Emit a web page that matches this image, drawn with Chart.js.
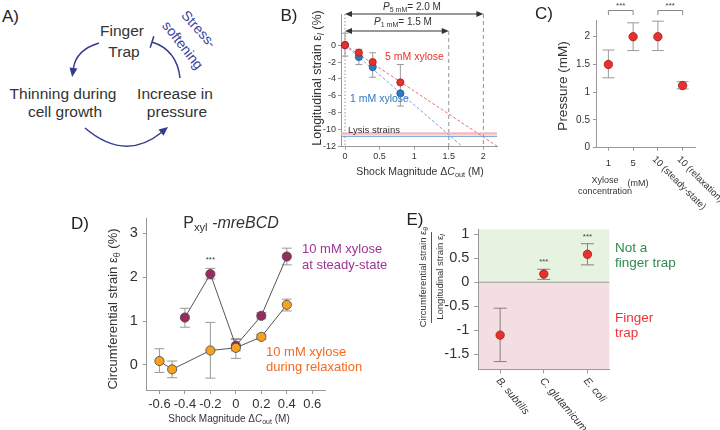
<!DOCTYPE html>
<html><head><meta charset="utf-8">
<script src="https://cdn.jsdelivr.net/npm/chart.js@4.4.1/dist/chart.umd.min.js"></script>
<style>
body{margin:0;background:#fff;width:720px;height:430px;overflow:hidden;position:relative;font-family:"Liberation Sans",Arial,sans-serif;color:#333}
canvas{position:absolute}
.t{position:absolute;white-space:nowrap;transform:translate(-50%,-50%);line-height:1}
.l{position:absolute;white-space:nowrap;transform:translateY(-50%);line-height:1}
sub{font-size:70%;vertical-align:-0.3em;line-height:0}
</style></head><body>
<svg width="240" height="200" style="position:absolute;left:0;top:0" font-family="Liberation Sans, Arial, sans-serif">
<text x="2" y="22" font-size="17" fill="#222">A)</text>
<g fill="#333" font-size="15.5" text-anchor="middle">
<text x="122" y="36">Finger</text>
<text x="124" y="57">Trap</text>
<text x="63" y="99">Thinning during</text>
<text x="65" y="117">cell growth</text>
<text x="175" y="99">Increase in</text>
<text x="177" y="117">pressure</text>
</g>
<g stroke="#353b91" stroke-width="1.5" fill="none">
<path d="M99 43 Q76 50 73.5 68"/>
<path d="M85 128 Q125 162 161.5 132.5"/>
<path d="M180 78 Q177 50 152 42"/>
<path d="M150.2 47.7 L153.8 36.3"/>
</g>
<g fill="#353b91">
<path d="M72.2 76.9 L77.5 68.6 L69.5 67.4 Z"/>
<path d="M168 127 L163.5 135.8 L158.5 129.6 Z"/>
</g>
<g fill="#3b3f9e" font-size="14" text-anchor="middle">
<text transform="translate(199,29) rotate(48)" dominant-baseline="central">Stress-</text>
<text transform="translate(183,45) rotate(52)" dominant-baseline="central">softening</text>
</g>
</svg>

<canvas id="cB" width="262" height="180" style="left:240px;top:0"></canvas>
<canvas id="cC" width="230" height="210" style="left:490px;top:0"></canvas>
<canvas id="cD" width="360" height="230" style="left:0;top:200px"></canvas>
<canvas id="cE" width="320" height="230" style="left:400px;top:200px"></canvas>

<!-- rotated axis titles -->
<svg width="720" height="430" style="position:absolute;left:0;top:0;pointer-events:none" font-family="Liberation Sans, Arial, sans-serif" fill="#333" text-anchor="middle">
<text transform="translate(321,78) rotate(-90)" font-size="12.5">Longitudinal strain ε<tspan font-style="italic" font-size="9" dy="3">l</tspan><tspan dy="-3"> (%)</tspan></text>
<text transform="translate(567,86) rotate(-90)" font-size="13.5">Pressure (mM)</text>
<text transform="translate(117,309) rotate(-90)" font-size="13">Circumferential strain ε<tspan font-size="9" dy="3">θ</tspan><tspan dy="-3"> (%)</tspan></text>
<text transform="translate(426,277) rotate(-90)" font-size="9.5">Circumferential strain ε<tspan font-size="7" dy="2">θ</tspan></text>
<text transform="translate(442.5,277) rotate(-90)" font-size="9.5">Longitudinal strain ε<tspan font-style="italic" font-size="7" dy="2">l</tspan></text>
<line x1="431.5" y1="232" x2="431.5" y2="323" stroke="#555" stroke-width="1"/>
</svg>

<!-- Panel B texts -->
<div class="t" style="left:289px;top:15px;font-size:17px;color:#222">B)</div>
<div class="t" style="left:412px;top:7px;font-size:10px"><i>P</i><sub>5 mM</sub>= 2.0 M</div>
<div class="t" style="left:403px;top:22px;font-size:10px"><i>P</i><sub>1 mM</sub>= 1.5 M</div>
<div class="l" style="left:385px;top:56px;font-size:10.5px;color:#e8312b">5 mM xylose</div>
<div class="l" style="left:350px;top:98px;font-size:10.5px;color:#2f79c3">1 mM xylose</div>
<div class="l" style="left:348px;top:130px;font-size:9.5px">Lysis strains</div>
<div class="t" style="left:420px;top:171px;font-size:10.5px">Shock Magnitude Δ<i>C</i><sub>out</sub> (M)</div>

<!-- Panel C texts -->
<div class="t" style="left:544px;top:13px;font-size:17px;color:#222">C)</div>
<div class="t" style="left:605px;top:180px;font-size:9px">Xylose</div>
<div class="t" style="left:605px;top:191px;font-size:9px">concentration</div>
<div class="t" style="left:638px;top:183px;font-size:9px">(mM)</div>

<!-- Panel D texts -->
<div class="t" style="left:80px;top:223px;font-size:17px;color:#222">D)</div>
<div class="t" style="left:231px;top:223px;font-size:16px">P<sub>xyl</sub> <i>-mreBCD</i></div>
<div class="t" style="left:229px;top:419px;font-size:10px">Shock Magnitude Δ<i>C</i><sub>out</sub> (M)</div>
<div class="l" style="left:302px;top:248px;font-size:13px;color:#9e3495">10 mM xylose</div>
<div class="l" style="left:302px;top:264px;font-size:13px;color:#9e3495">at steady-state</div>
<div class="l" style="left:266px;top:351px;font-size:13px;color:#f26a22">10 mM xylose</div>
<div class="l" style="left:266px;top:366px;font-size:13px;color:#f26a22">during relaxation</div>

<!-- Panel E texts -->
<div class="t" style="left:415px;top:219px;font-size:17px;color:#222">E)</div>
<div class="l" style="left:615px;top:248px;font-size:13.5px;color:#2e8a50">Not a</div>
<div class="l" style="left:615px;top:263px;font-size:13.5px;color:#2e8a50">finger trap</div>
<div class="l" style="left:615px;top:318px;font-size:13.5px;color:#ee3338">Finger</div>
<div class="l" style="left:615px;top:333px;font-size:13.5px;color:#ee3338">trap</div>

<script>
// ---------- Panel B data ----------
const bShock = [0, 0.2, 0.4, 0.8];
const bStrain5mM = [0, -0.9, -2.0, -4.4];
const bStrain1mM = [0, -1.4, -2.6, -5.7];
const bErrLow = [-1.3, -2.3, -3.8, -7.2];
const bErrHigh = [1.4, -0.5, -0.9, -2.3];
const bFit5X = [0, 2.21];
const bFit1X = [0, 1.70];
const bFitY = [0, -12];
const bLysisX = [-0.06, 2.2];
const bLysis5 = [-10.45, -10.45];
const bLysis1 = [-10.77, -10.77];
const bPressure = [2.0, 1.5];   // P(5 mM), P(1 mM)
const bXTicks = [0, 0.5, 1, 1.5, 2];
const bYTicks = [0, -2, -4, -6, -8, -10, -12];

// ---------- Panel C data ----------
const cCats = ['1', '5', '10 (steady-state)', '10 (relaxation)'];
const cPressure = [1.5, 2.0, 2.0, 1.12];
const cErrLow = [1.26, 1.75, 1.75, 1.06];
const cErrHigh = [1.76, 2.25, 2.28, 1.19];
const cYTicks = [0, 0.5, 1, 1.5, 2];
const cSigPairs = [[0, 1], [2, 3]];

// ---------- Panel D data ----------
const dSteadyX = [-0.4, -0.2, 0, 0.2, 0.4];
const dSteadyY = [1.08, 2.07, 0.44, 1.12, 2.47];
const dSteadyLow = [0.86, 1.96, 0.32, 1.05, 2.28];
const dSteadyHigh = [1.29, 2.20, 0.58, 1.19, 2.66];
const dRelaxX = [-0.6, -0.5, -0.2, 0, 0.2, 0.4];
const dRelaxY = [0.09, -0.10, 0.33, 0.39, 0.64, 1.37];
const dRelaxLow = [-0.17, -0.29, -0.30, 0.15, 0.58, 1.23];
const dRelaxHigh = [0.37, 0.09, 0.97, 0.60, 0.70, 1.50];
const dSigX = [-0.2];
const dSigTop = [2.20];
const dXTicks = [-0.6, -0.4, -0.2, 0, 0.2, 0.4, 0.6];
const dYTicks = [0, 1, 2, 3];

// ---------- Panel E data ----------
const eSpecies = ['B. subtilis', 'C. glutamicum', 'E. coli'];
const eRatio = [-1.10, 0.17, 0.58];
const eErrLow = [-1.65, 0.06, 0.36];
const eErrHigh = [-0.54, 0.27, 0.80];
const eSig = ['', '***', '***'];
const eYTicks = [-1.5, -1, -0.5, 0, 0.5, 1];
const eBoundary = 0;

Chart.defaults.font.family = '"Liberation Sans", Arial, sans-serif';
Chart.defaults.color = '#333';

const pts = (xs, ys) => xs.map((x, i) => ({x: x, y: ys[i]}));
const common = () => ({responsive: false, animation: false, events: [],
  plugins: {legend: {display: false}, tooltip: {enabled: false}}});

function linAxis(min, max, ticks, fs, tl, pad, fitFn) {
  return {type: 'linear', min: min, max: max, bounds: 'data',
    afterBuildTicks: s => { s.ticks = ticks.map(v => ({value: v})); },
    ticks: {font: {size: fs}, color: '#333', padding: pad, autoSkip: false, maxRotation: 0, minRotation: 0,
      callback: v => String(v)},
    grid: {display: true, drawOnChartArea: false, drawTicks: true, tickLength: tl, color: '#999'},
    border: {display: true, color: '#999', width: 1},
    afterFit: fitFn};
}
const yFit = w => s => { s.width = w; s.paddingTop = 0; s.paddingBottom = 0; };
const xFit = h => s => { s.height = h; s.paddingLeft = 0; s.paddingRight = 0; };

function errPlugin(sets) {
  return {id: 'errbars', beforeDatasetsDraw(chart) {
    const ctx = chart.ctx, x = chart.scales.x, y = chart.scales.y;
    sets.forEach(s => {
      ctx.save(); ctx.strokeStyle = s.color; ctx.lineWidth = 1;
      s.x.forEach((xv, i) => {
        const px = x.getPixelForValue(xv), p1 = y.getPixelForValue(s.lo[i]), p2 = y.getPixelForValue(s.hi[i]);
        ctx.beginPath();
        ctx.moveTo(px, p1); ctx.lineTo(px, p2);
        ctx.moveTo(px - s.cap, p1); ctx.lineTo(px + s.cap, p1);
        ctx.moveTo(px - s.cap, p2); ctx.lineTo(px + s.cap, p2);
        ctx.stroke();
      });
      ctx.restore();
    });
  }};
}

// ---------- Chart B ----------
const bRefPlugin = {id: 'bref', beforeDatasetsDraw(chart) {
  const ctx = chart.ctx, a = chart.chartArea, x = chart.scales.x;
  const x0 = x.getPixelForValue(0);
  const tops = [14, 31];
  ctx.save();
  ctx.strokeStyle = '#777'; ctx.lineWidth = 0.8;
  ctx.setLineDash([1.5, 2]);
  ctx.beginPath(); ctx.moveTo(x0, 14); ctx.lineTo(x0, a.bottom); ctx.stroke();
  ctx.setLineDash([4, 3]);
  bPressure.forEach((p, i) => {
    const px = x.getPixelForValue(p);
    ctx.beginPath(); ctx.moveTo(px, tops[i]); ctx.lineTo(px, a.bottom); ctx.stroke();
  });
  ctx.setLineDash([]);
  ctx.strokeStyle = '#333'; ctx.fillStyle = '#333'; ctx.lineWidth = 1;
  bPressure.forEach((p, i) => {
    const px = x.getPixelForValue(p), yy = tops[i];
    ctx.beginPath(); ctx.moveTo(x0 + 4, yy); ctx.lineTo(px - 4, yy); ctx.stroke();
    ctx.beginPath(); ctx.moveTo(x0, yy); ctx.lineTo(x0 + 7, yy - 3); ctx.lineTo(x0 + 7, yy + 3); ctx.fill();
    ctx.beginPath(); ctx.moveTo(px, yy); ctx.lineTo(px - 7, yy - 3); ctx.lineTo(px - 7, yy + 3); ctx.fill();
  });
  ctx.restore();
}};

new Chart(document.getElementById('cB'), {
  type: 'scatter',
  data: {datasets: [
    {data: pts(bShock, bStrain5mM), pointRadius: 3.6, backgroundColor: '#e8312b', borderColor: '#a81c18', borderWidth: 0.8},
    {data: pts(bShock, bStrain1mM), pointRadius: 3.6, backgroundColor: '#2f79c3', borderColor: '#1d5a96', borderWidth: 0.8},
    {data: pts(bFit5X, bFitY), showLine: true, borderColor: '#e8707a', borderWidth: 1, borderDash: [3, 2], pointRadius: 0},
    {data: pts(bFit1X, bFitY), showLine: true, borderColor: '#6fa3d9', borderWidth: 1, borderDash: [3, 2], pointRadius: 0},
    {data: pts(bLysisX, bLysis1), showLine: true, borderColor: '#5b9bd5', borderWidth: 1, pointRadius: 0},
    {data: pts(bLysisX, bLysis5), showLine: true, borderColor: '#f6b9c1', borderWidth: 2.5, pointRadius: 0}
  ]},
  options: Object.assign(common(), {
    layout: {padding: {left: 0, right: 4.5, top: 14.6, bottom: 0}},
    scales: {
      x: linAxis(-0.058, 2.2, bXTicks, 9, 3, 1, xFit(33.3)),
      y: linAxis(-12, 3.6, bYTicks, 9, 3, 2, yFit(101))
    }
  }),
  plugins: [bRefPlugin, errPlugin([{x: bShock, lo: bErrLow, hi: bErrHigh, cap: 3.5, color: '#9a9a9a'}])]
});

// ---------- Chart C ----------
const cLabelPlugin = {id: 'clab', afterDraw(chart) {
  const ctx = chart.ctx, x = chart.scales.x, y = chart.scales.y;
  ctx.save(); ctx.fillStyle = '#333'; ctx.font = '9.5px "Liberation Sans", Arial, sans-serif';
  cCats.forEach((c, i) => {
    const px = x.getPixelForValue(i);
    if (c.length < 3) { ctx.textAlign = 'center'; ctx.textBaseline = 'middle'; ctx.fillText(c, px, 163); }
    else { ctx.save(); ctx.translate(px - 4, 158); ctx.rotate(Math.PI / 4); ctx.textAlign = 'left'; ctx.textBaseline = 'middle'; ctx.fillText(c, 0, 0); ctx.restore(); }
  });
  ctx.strokeStyle = '#888'; ctx.lineWidth = 1;
  ctx.font = '8px "Liberation Sans", Arial, sans-serif'; ctx.fillStyle = '#444'; ctx.textAlign = 'center';
  cSigPairs.forEach(p => {
    const a = x.getPixelForValue(p[0]), b = x.getPixelForValue(p[1]);
    ctx.beginPath(); ctx.moveTo(a, 15); ctx.lineTo(a, 10.5); ctx.lineTo(b, 10.5); ctx.lineTo(b, 15); ctx.stroke();
    ctx.fillText('***', (a + b) / 2, 6);
  });
  ctx.restore();
}};
new Chart(document.getElementById('cC'), {
  type: 'line',
  data: {labels: cCats, datasets: [
    {data: cPressure, showLine: false, pointRadius: 4.2, backgroundColor: '#e8312b', borderColor: '#9a1c1c', borderWidth: 0.8}
  ]},
  options: Object.assign(common(), {
    layout: {padding: {left: 0, right: 25, top: 20.05, bottom: 0}},
    scales: {
      x: {type: 'category', offset: true, ticks: {callback: () => '', padding: 0},
        grid: {display: true, drawOnChartArea: false, drawTicks: true, tickLength: 3, color: '#999', offset: false},
        border: {display: true, color: '#999'}, afterFit: xFit(62.3)},
      y: linAxis(0, 2.3, cYTicks, 10, 3, 3, yFit(106))
    }
  }),
  plugins: [cLabelPlugin, errPlugin([{x: [0, 1, 2, 3], lo: cErrLow, hi: cErrHigh, cap: 6, color: '#9a9a9a'}])]
});

// ---------- Chart D ----------
const dSigPlugin = {id: 'dsig', afterDatasetsDraw(chart) {
  const ctx = chart.ctx, x = chart.scales.x, y = chart.scales.y;
  ctx.save(); ctx.fillStyle = '#444'; ctx.font = '8px "Liberation Sans", Arial, sans-serif'; ctx.textAlign = 'center';
  dSigX.forEach((v, i) => ctx.fillText('***', x.getPixelForValue(v), y.getPixelForValue(dSigTop[i]) - 6));
  ctx.restore();
}};
new Chart(document.getElementById('cD'), {
  type: 'scatter',
  data: {datasets: [
    {data: pts(dRelaxX, dRelaxY), showLine: true, borderColor: '#555', borderWidth: 1,
      pointRadius: 4.6, pointBackgroundColor: '#f7a21e', pointBorderColor: '#444', pointBorderWidth: 0.8},
    {data: pts(dSteadyX, dSteadyY), showLine: true, borderColor: '#555', borderWidth: 1,
      pointRadius: 4.6, pointBackgroundColor: '#9a2a60', pointBorderColor: '#444', pointBorderWidth: 0.8}
  ]},
  options: Object.assign(common(), {
    layout: {padding: {left: 0, right: 35, top: 18.3, bottom: 0}},
    scales: {
      x: linAxis(-0.7, 0.7, dXTicks, 13, 4, 3, xFit(40)),
      y: linAxis(-0.57, 3.34, dYTicks, 14.5, 4, 5, yFit(146.7))
    }
  }),
  plugins: [dSigPlugin, errPlugin([
    {x: dRelaxX, lo: dRelaxLow, hi: dRelaxHigh, cap: 5, color: '#999'},
    {x: dSteadyX, lo: dSteadyLow, hi: dSteadyHigh, cap: 5, color: '#999'}])]
});

// ---------- Chart E ----------
const eBgPlugin = {id: 'ebg', beforeDraw(chart) {
  const ctx = chart.ctx, a = chart.chartArea, y = chart.scales.y;
  const y0 = y.getPixelForValue(eBoundary);
  ctx.save();
  ctx.fillStyle = '#e6f3e1'; ctx.fillRect(a.left, a.top, a.right - a.left, y0 - a.top);
  ctx.fillStyle = '#f3dfe1'; ctx.fillRect(a.left, y0, a.right - a.left, a.bottom - y0);
  ctx.strokeStyle = '#999'; ctx.lineWidth = 1;
  ctx.beginPath(); ctx.moveTo(a.left, y0); ctx.lineTo(a.right, y0); ctx.stroke();
  ctx.restore();
}, afterDraw(chart) {
  const ctx = chart.ctx, x = chart.scales.x, y = chart.scales.y;
  ctx.save(); ctx.fillStyle = '#333';
  eSpecies.forEach((s, i) => {
    const px = x.getPixelForValue(i);
    ctx.save(); ctx.translate(px - 2, 179); ctx.rotate(50 * Math.PI / 180);
    ctx.font = 'italic 10.5px "Liberation Sans", Arial, sans-serif';
    ctx.textAlign = 'left'; ctx.textBaseline = 'middle'; ctx.fillText(s, 0, 0); ctx.restore();
    if (eSig[i]) {
      ctx.font = '8px "Liberation Sans", Arial, sans-serif'; ctx.textAlign = 'center';
      ctx.fillStyle = '#444';
      ctx.fillText(eSig[i], px, y.getPixelForValue(eErrHigh[i]) - 5);
      ctx.fillStyle = '#333';
    }
  });
  ctx.restore();
}};
new Chart(document.getElementById('cE'), {
  type: 'line',
  data: {labels: eSpecies, datasets: [
    {data: eRatio, showLine: false, pointRadius: 4.2, backgroundColor: '#e8312b', borderColor: '#9a1c1c', borderWidth: 0.8}
  ]},
  options: Object.assign(common(), {
    layout: {padding: {left: 0, right: 110.7, top: 29.3, bottom: 0}},
    scales: {
      x: {type: 'category', offset: true, ticks: {callback: () => '', padding: 0},
        grid: {display: true, drawOnChartArea: false, drawTicks: true, tickLength: 4, color: '#999', offset: false},
        border: {display: true, color: '#999'}, afterFit: xFit(60.7)},
      y: linAxis(-1.81, 1.1, eYTicks, 14.5, 4, 5, yFit(78.3))
    }
  }),
  plugins: [eBgPlugin, errPlugin([{x: [0, 1, 2], lo: eErrLow, hi: eErrHigh, cap: 6.5, color: '#8f7b7d'}])]
});
</script>
</body></html>
